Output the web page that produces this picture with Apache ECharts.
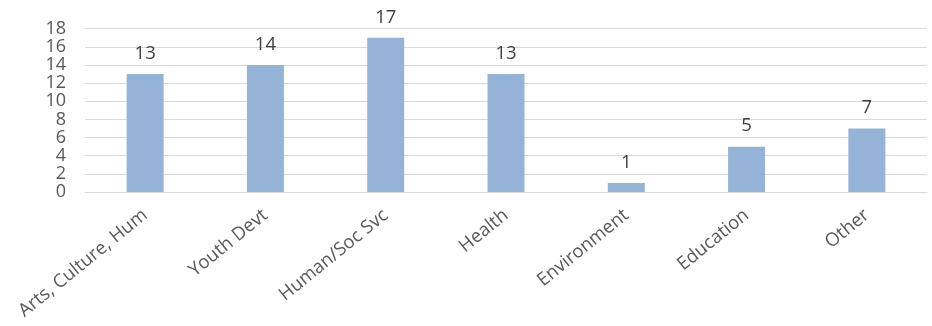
<!DOCTYPE html>
<html><head><meta charset="utf-8">
<script src="https://cdn.jsdelivr.net/npm/echarts@6/dist/echarts.min.js"></script>
<style>html,body{margin:0;padding:0;background:#fff}#c{width:932px;height:326px}</style>
</head><body><div id="c"></div>
<script>
const categories = ["Arts, Culture, Hum", "Youth Devt", "Human/Soc Svc", "Health", "Environment", "Education", "Other"];
const values = [13, 14, 17, 13, 1, 5, 7];
const yTicks = [0, 2, 4, 6, 8, 10, 12, 14, 16, 18];

const chart = echarts.init(document.getElementById('c'), null, {renderer: 'canvas'});
const font = "'Open Sans', sans-serif";
chart.setOption({
  animation: false,
  grid: {left: 85, right: 5, top: 28.7, bottom: 134, containLabel: false},
  xAxis: {
    type: 'category', data: categories,
    axisLine: {show: true, lineStyle: {color: '#d9d9d9', width: 1}},
    axisTick: {show: false},
    axisLabel: {rotate: 39, interval: 0, color: '#595959', fontSize: 18.5, fontFamily: font, margin: 21}
  },
  yAxis: {
    type: 'value', min: yTicks[0], max: yTicks[yTicks.length - 1], interval: 2,
    axisLine: {show: false}, axisTick: {show: false},
    splitLine: {lineStyle: {color: '#d9d9d9', width: 1}},
    axisLabel: {color: '#595959', fontSize: 18, fontFamily: font, margin: 19, lineHeight: 17,
                showMinLabel: true, showMaxLabel: true, hideOverlap: false}
  },
  series: [{
    type: 'bar', data: values, barWidth: 37,
    itemStyle: {color: '#95b3d7'},
    label: {show: true, position: 'top', distance: 11, color: '#404040', fontSize: 18.5, fontFamily: font}
  }]
});
</script></body></html>
